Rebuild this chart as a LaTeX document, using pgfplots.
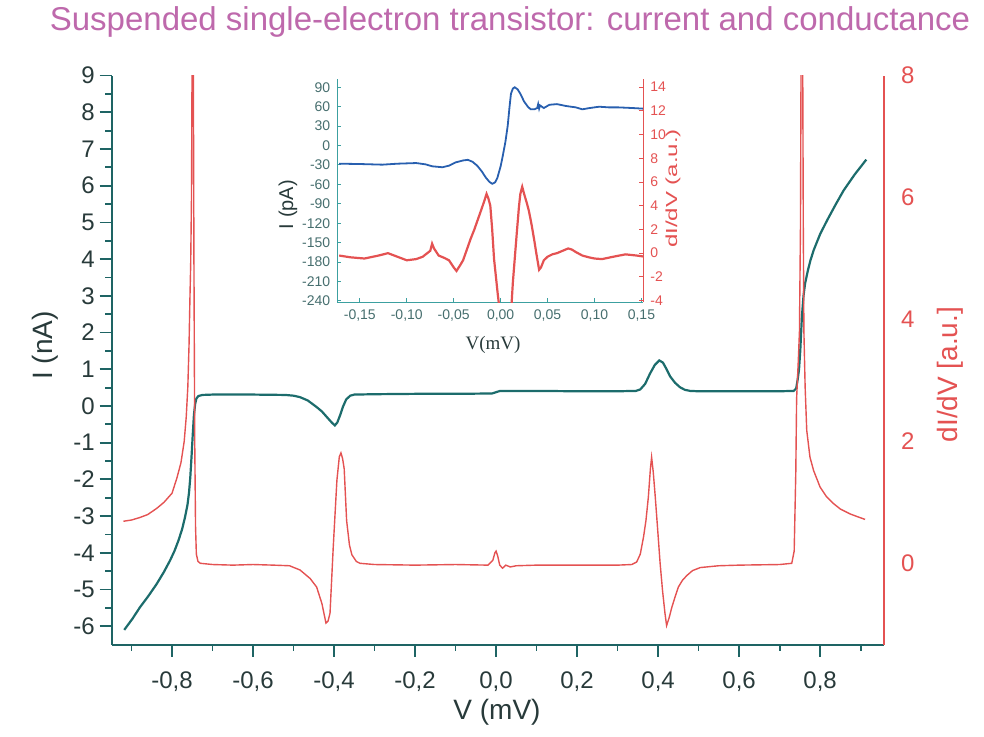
\documentclass[border=0pt]{standalone}
\usepackage{fontspec}
\setmainfont{Liberation Sans}
\newfontfamily\seriffont{Liberation Serif}
\usepackage{pgfplots}
\pgfplotsset{compat=1.18}
\definecolor{tealc}{RGB}{28,108,108}
\definecolor{axteal}{RGB}{30,100,100}
\definecolor{redc}{RGB}{228,82,82}
\definecolor{titlec}{RGB}{190,105,172}
\definecolor{tickc}{RGB}{40,58,58}
\definecolor{bluec}{RGB}{40,95,175}
\definecolor{insteal}{RGB}{60,160,160}
\definecolor{instick}{RGB}{70,110,110}
\begin{document}
\begin{tikzpicture}[x=1pt,y=1pt]
\path (0,0) rectangle (492,368);
% ---------- main axis: current ----------
\begin{axis}[at={(55.85pt,46pt)}, anchor=south west, scale only axis,
  width=386.2pt, height=284.5pt,
  xmin=-0.949, xmax=0.958, ymin=-6.5, ymax=9,
  axis x line*=bottom, axis y line*=left,
  axis line style={axteal, line width=1pt},
  tick align=outside, major tick length=6pt, minor tick length=3.2pt,
  every tick/.style={axteal, line width=0.9pt},
  xtick={-0.8,-0.6,-0.4,-0.2,0,0.2,0.4,0.6,0.8},
  minor xtick={-0.9,-0.7,-0.5,-0.3,-0.1,0.1,0.3,0.5,0.7,0.9},
  xticklabels={-0{,}8,-0{,}6,-0{,}4,-0{,}2,0{,}0,0{,}2,0{,}4,0{,}6,0{,}8},
  ytick={-6,-5,-4,-3,-2,-1,0,1,2,3,4,5,6,7,8,9},
  yticklabels={-6,-5,-4,-3,-2,-1,0,1,2,3,4,5,6,7,8,9},
  minor ytick={-5.5,-4.5,-3.5,-2.5,-1.5,-0.5,0.5,1.5,2.5,3.5,4.5,5.5,6.5,7.5,8.5},
  ticklabel style={font=\fontsize{12}{12}\selectfont, text=tickc},
  xticklabel style={yshift=-4pt},
  yticklabel style={xshift=1pt},
]
\addplot[tealc, line width=1.1pt] coordinates {
(-0.918,-6.10) (-0.898,-5.80) (-0.879,-5.48) (-0.858,-5.17) (-0.838,-4.85)
(-0.820,-4.52) (-0.805,-4.21) (-0.794,-3.95) (-0.784,-3.66) (-0.775,-3.35)
(-0.768,-3.03) (-0.762,-2.70) (-0.758,-2.35) (-0.755,-1.95) (-0.752,-1.40)
(-0.749,-0.80) (-0.746,-0.25) (-0.743,0.05) (-0.740,0.20) (-0.735,0.27)
(-0.725,0.30) (-0.70,0.31) (-0.60,0.31) (-0.52,0.30) (-0.50,0.28)
(-0.484,0.24) (-0.465,0.15) (-0.443,-0.03) (-0.43,-0.15) (-0.418,-0.30)
(-0.405,-0.46) (-0.398,-0.53) (-0.392,-0.45) (-0.385,-0.25) (-0.378,-0.02)
(-0.370,0.18) (-0.36,0.28) (-0.35,0.31) (-0.30,0.32) (-0.20,0.33)
(-0.10,0.33) (-0.01,0.34) (0.01,0.41) (0.10,0.41) (0.20,0.40)
(0.30,0.40) (0.345,0.41) (0.356,0.45) (0.368,0.60) (0.38,0.88)
(0.392,1.12) (0.403,1.24) (0.412,1.18) (0.421,1.00) (0.43,0.80)
(0.442,0.63) (0.454,0.51) (0.466,0.44) (0.479,0.41) (0.50,0.40)
(0.60,0.40) (0.70,0.40) (0.735,0.41) (0.741,0.48) (0.745,0.75)
(0.748,1.0) (0.751,1.5) (0.755,2.42) (0.759,3.0) (0.763,3.34)
(0.770,3.70) (0.776,3.96) (0.784,4.24) (0.80,4.68) (0.817,5.05)
(0.838,5.48) (0.858,5.87) (0.885,6.30) (0.914,6.71)
};
\end{axis}
% ---------- main axis: conductance ----------
\begin{axis}[at={(55.85pt,46pt)}, anchor=south west, scale only axis,
  width=386.2pt, height=284.5pt,
  xmin=-0.949, xmax=0.958, ymin=-1.333, ymax=8,
  axis x line=none, axis y line*=right,
  axis line style={redc, line width=1pt},
  ytick={0,2,4,6,8}, yticklabels={0,2,4,6,8},
  major tick length=0pt,
  yticklabel style={font=\fontsize{12}{12}\selectfont, text=redc, xshift=5pt},
]
\addplot[redc, line width=0.7pt] coordinates {
(-0.920,0.69) (-0.90,0.71) (-0.88,0.75) (-0.86,0.80) (-0.838,0.90)
(-0.82,1.00) (-0.80,1.15) (-0.788,1.40) (-0.778,1.65) (-0.770,2.00)
(-0.765,2.40) (-0.761,2.90) (-0.758,3.60) (-0.756,4.30) (-0.754,4.90)
(-0.752,6.0) (-0.7505,8.3) (-0.7475,8.3) (-0.746,5.0) (-0.744,2.0)
(-0.742,0.6) (-0.740,0.15) (-0.736,0.03) (-0.73,0.0) (-0.70,-0.02)
(-0.65,-0.03) (-0.60,-0.02) (-0.55,-0.03) (-0.51,-0.04) (-0.484,-0.11)
(-0.459,-0.25) (-0.443,-0.39) (-0.43,-0.66) (-0.42,-0.98) (-0.415,-0.95)
(-0.41,-0.82) (-0.402,0.27) (-0.393,1.36) (-0.387,1.75) (-0.383,1.81)
(-0.379,1.72) (-0.375,1.55) (-0.369,0.70) (-0.362,0.30) (-0.356,0.14)
(-0.345,0.03) (-0.336,0.0) (-0.30,-0.02) (-0.20,-0.03) (-0.10,-0.02)
(-0.02,-0.03) (-0.008,0.05) (-0.003,0.17) (0.0,0.20) (0.004,0.12)
(0.009,-0.03) (0.016,-0.08) (0.024,-0.03) (0.035,-0.06) (0.05,-0.04)
(0.10,-0.03) (0.20,-0.03) (0.30,-0.03) (0.335,-0.02) (0.347,0.02)
(0.356,0.15) (0.364,0.43) (0.370,0.70) (0.376,1.09) (0.381,1.55)
(0.384,1.74) (0.388,1.50) (0.393,1.09) (0.399,0.55) (0.405,0.0)
(0.411,-0.45) (0.417,-0.82) (0.421,-1.02) (0.427,-0.90) (0.434,-0.72)
(0.442,-0.55) (0.45,-0.39) (0.46,-0.28) (0.471,-0.20) (0.485,-0.12)
(0.504,-0.07) (0.55,-0.04) (0.60,-0.03) (0.70,-0.02) (0.73,0.0)
(0.736,0.2) (0.740,1.5) (0.742,2.7) (0.746,3.3) (0.749,3.8)
(0.7515,5.5) (0.753,8.3) (0.757,8.3) (0.7585,5.5) (0.760,3.8)
(0.763,2.9) (0.767,2.18) (0.775,1.74) (0.784,1.52) (0.80,1.25)
(0.815,1.10) (0.833,0.98) (0.85,0.89) (0.874,0.81) (0.89,0.77)
(0.911,0.72)
};
\end{axis}
% ---------- inset: current ----------
\begin{axis}[at={(168.65pt,217.15pt)}, anchor=south west, scale only axis,
  width=153pt, height=111.7pt,
  xmin=-0.174, xmax=0.152, ymin=-242, ymax=103,
  axis x line*=bottom, axis y line*=left,
  axis line style={insteal, line width=0.7pt},
  tick align=inside, major tick length=2pt,
  every tick/.style={insteal, line width=0.5pt},
  xtick={-0.15,-0.10,-0.05,0,0.05,0.10,0.15},
  xticklabels={-0{,}15,-0{,}10,-0{,}05,0{,}00,0{,}05,0{,}10,0{,}15},
  ytick={-240,-210,-180,-150,-120,-90,-60,-30,0,30,60,90},
  yticklabels={-240,-210,-180,-150,-120,-90,-60,-30,0,30,60,90},
  ticklabel style={font=\fontsize{7}{7}\selectfont, text=instick},
]
\addplot[bluec, line width=0.9pt] coordinates {
(-0.172,-28) (-0.15,-28.5) (-0.126,-29.5) (-0.11,-28) (-0.09,-27)
(-0.08,-29) (-0.073,-32) (-0.062,-33.5) (-0.055,-31) (-0.048,-26)
(-0.04,-23) (-0.035,-22) (-0.03,-25) (-0.025,-31) (-0.02,-40)
(-0.016,-49) (-0.012,-56) (-0.009,-59) (-0.006,-57) (-0.0035,-50)
(0.0,-32) (0.002,-18) (0.005,5) (0.0075,30) (0.0095,60)
(0.011,80) (0.013,88) (0.015,90) (0.018,87) (0.021,80)
(0.025,68) (0.029,60) (0.032,56) (0.036,56) (0.039,58)
(0.040,64) (0.041,57) (0.042,62) (0.046,58) (0.052,63)
(0.06,64) (0.07,61) (0.08,59) (0.087,56) (0.095,58)
(0.105,60) (0.115,59) (0.125,59) (0.14,58) (0.152,57)
};
\end{axis}
% ---------- inset: conductance ----------
\begin{axis}[at={(168.65pt,217.15pt)}, anchor=south west, scale only axis,
  width=153pt, height=111.7pt,
  xmin=-0.174, xmax=0.152, ymin=-4.14, ymax=14.7,
  axis x line=none, axis y line*=right,
  axis line style={redc, line width=0.7pt},
  tick align=inside, major tick length=2pt,
  every tick/.style={redc, line width=0.5pt},
  ytick={-4,-2,0,2,4,6,8,10,12,14},
  yticklabels={-4,-2,0,2,4,6,8,10,12,14},
  yticklabel style={font=\fontsize{7}{7}\selectfont, text=redc},
]
\addplot[redc, line width=1.1pt] coordinates {
(-0.172,-0.2) (-0.16,-0.35) (-0.145,-0.45) (-0.13,-0.2) (-0.12,0.0)
(-0.11,-0.3) (-0.10,-0.6) (-0.09,-0.5) (-0.083,-0.3) (-0.075,0.2)
(-0.073,0.8) (-0.071,0.4) (-0.066,-0.2) (-0.06,-0.4) (-0.055,-0.6)
(-0.05,-1.2) (-0.047,-1.5) (-0.043,-1.0) (-0.04,-0.6) (-0.036,0.3)
(-0.032,1.2) (-0.028,2.0) (-0.024,2.9) (-0.020,3.8) (-0.017,4.5)
(-0.015,5.0) (-0.013,4.6) (-0.011,4.0) (-0.009,2.0) (-0.007,-0.5)
(-0.005,-2.0) (-0.003,-3.5) (-0.0015,-4.5) (0.001,-6) (0.010,-6)
(0.0115,-4.5) (0.013,-2.5) (0.0145,-1.0) (0.017,1.5) (0.0195,3.9)
(0.021,5.0) (0.023,5.6) (0.025,5.0) (0.028,4.2) (0.030,3.6)
(0.033,2.4) (0.036,1.0) (0.038,0.0) (0.041,-1.4) (0.043,-1.2)
(0.046,-0.6) (0.05,-0.3) (0.055,-0.1) (0.06,0.0) (0.066,0.2)
(0.072,0.4) (0.076,0.3) (0.08,0.1) (0.087,-0.2) (0.094,-0.35)
(0.10,-0.45) (0.108,-0.5) (0.12,-0.3) (0.133,-0.1) (0.145,-0.2)
(0.152,-0.28)
};
\end{axis}
% ---------- texts ----------
\node[anchor=base, text=titlec, font=\fontsize{16.5}{16.5}\selectfont] at (255,353) {Suspended single-electron transistor: current and conductance};
\node[rotate=90, text=tickc, font=\fontsize{14}{14}\selectfont] at (22.5,195.5) {I (nA)};
\node[text=tickc, font=\fontsize{14}{14}\selectfont] at (248.5,12) {V (mV)};
\node[rotate=90, text=redc, font=\fontsize{14}{14}\selectfont] at (475,181) {dI/dV [a.u.]};
\node[rotate=90, text=tickc, font=\fontsize{10}{10}\selectfont, inner sep=0pt] at (144,266) {I (pA)};
\node[rotate=90, text=redc, font=\fontsize{8}{8}\selectfont, inner sep=0pt] at (336.5,274) {\scalebox{1.5}[1]{dI/dV (a.u.)}};
\node[text=tickc, font=\seriffont\fontsize{9.5}{9.5}\selectfont] at (246.5,196) {V(mV)};
\end{tikzpicture}
\end{document}
